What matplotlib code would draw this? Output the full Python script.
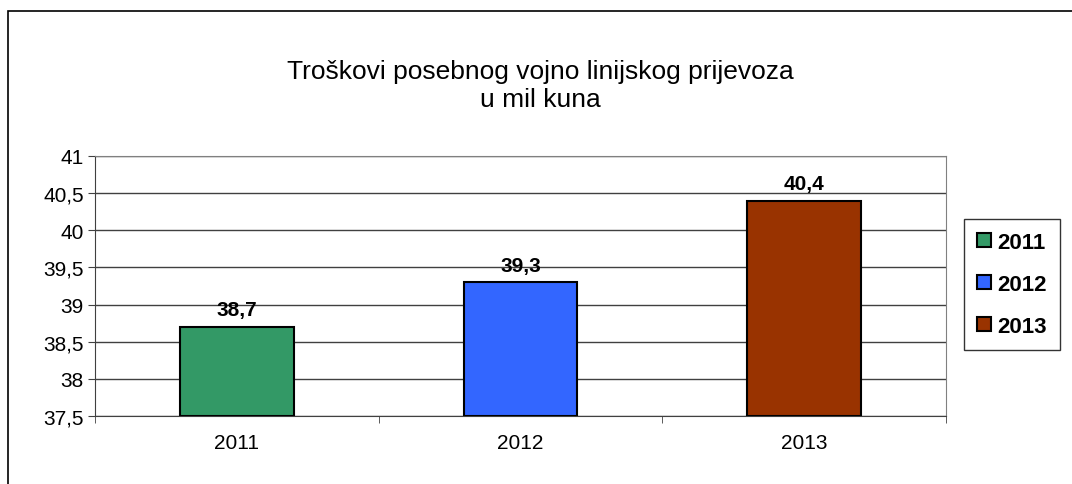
import matplotlib.pyplot as plt
from matplotlib.patches import Patch, Rectangle
import numpy as np

plt.rcParams['font.family'] = ['Liberation Sans', 'DejaVu Sans']

# Data
years = ['2011', '2012', '2013']
values = [38.7, 39.3, 40.4]
colors = ['#339966', '#3366FF', '#993300']
yticks = [37.5, 38, 38.5, 39, 39.5, 40, 40.5, 41]

fig = plt.figure(figsize=(10.72, 4.85), dpi=100)
W, H = 1072, 485

# outer chart frame
fig.patches.append(Rectangle((8 / W, -0.1), 1.2, 1 - 12 / H + 0.1, transform=fig.transFigure,
                             fill=False, edgecolor='black', linewidth=1.2))

ax = fig.add_axes([95 / W, 1 - 417 / H, (946 - 95) / W, (417 - 157) / H])

x = np.arange(len(years))
ax.bar(x, [v - 37.5 for v in values], bottom=37.5, width=0.4, color=colors,
       edgecolor='black', linewidth=1.5, zorder=3)

for xi, v in zip(x, values):
    ax.text(xi, v + 0.1, f"{v:.1f}".replace('.', ','), ha='center', va='bottom',
            fontsize=15, fontweight='bold')

ax.set_xlim(-0.5, len(years) - 0.5)
ax.set_ylim(37.5, 41)
ax.set_yticks(yticks)
ax.set_yticklabels([f"{t:g}".replace('.', ',') for t in yticks], fontsize=15)
ax.set_xticks(x)
ax.set_xticklabels(years, fontsize=15)
ax.set_xticks(np.arange(-0.5, len(years)), minor=True)
ax.tick_params(axis='x', which='major', length=0, pad=12)
ax.tick_params(axis='x', which='minor', length=5, color='#404040')
ax.tick_params(axis='y', length=5, color='#404040', pad=3)

ax.yaxis.grid(True, color='#404040', linewidth=1)
ax.set_axisbelow(True)
for side in ['top', 'right']:
    ax.spines[side].set_color('#808080')
for side in ['left', 'bottom']:
    ax.spines[side].set_color('#404040')

fig.text(540 / W, 1 - 72 / H, 'Troškovi posebnog vojno linijskog prijevoza', ha='center',
         va='center', fontsize=19)
fig.text(540 / W, 1 - 100 / H, 'u mil kuna', ha='center', va='center', fontsize=19)

handles = [Patch(facecolor=c, edgecolor='black', linewidth=1.5) for c in colors]
leg = fig.legend(handles, years, loc='center', bbox_to_anchor=(1012 / W, 1 - 285.5 / H),
                 frameon=True, fancybox=False, edgecolor='black',
                 prop={'weight': 'bold', 'size': 16}, handlelength=0.6, handleheight=0.6,
                 handletextpad=0.3, labelspacing=0.95, borderpad=0.6, borderaxespad=0)
leg.get_frame().set_linewidth(1)

fig.savefig('out.png', dpi=100)
